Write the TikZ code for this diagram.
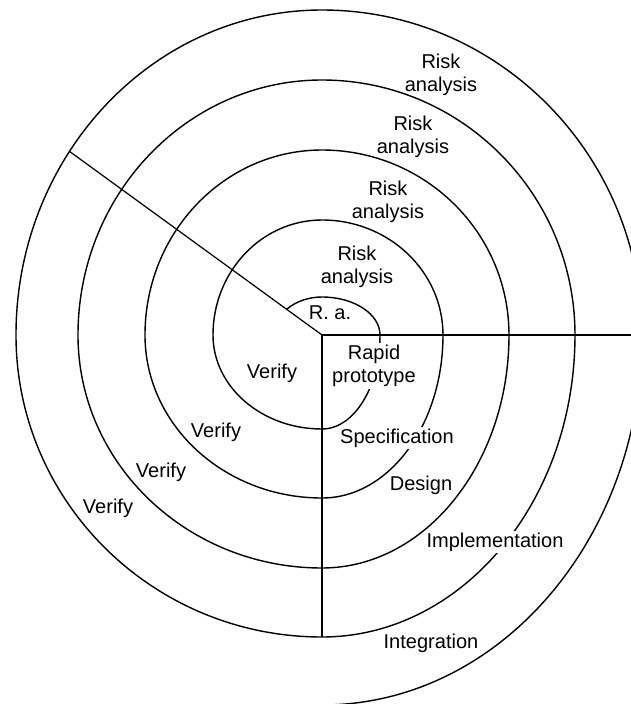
\documentclass[tikz,border=0pt]{standalone}
\usepackage{fontspec}
\setmainfont{Liberation Sans}
\usepackage{tikz}

\begin{document}
\begin{tikzpicture}[x=0.02cm, y=0.02cm, spiral/.style={line width=0.8pt}, axis/.style={line width=0.7pt}, lbl/.style={inner sep=1pt, align=center, font=\fontsize{11.4}{13}\selectfont}, gap/.style={lbl, fill=white}]

\useasboundingbox (-322,-369) rectangle (309,335);
\clip (-322,-369) rectangle (309,335);

\coordinate (c) at (0,0);
\coordinate (east) at (320,0);
\coordinate (south) at (0,-302);
\coordinate (northwest) at (145.6:306 and 325);

\draw[spiral] (138:48 and 38)
 arc[start angle=138, end angle=90, x radius=48, y radius=38]
 arc[start angle=90, end angle=0, x radius=58, y radius=38]
 arc[start angle=0, end angle=-90, x radius=58, y radius=94]
 arc[start angle=-90, end angle=-180, x radius=109, y radius=94]
 arc[start angle=180, end angle=90, x radius=109, y radius=115]
 arc[start angle=90, end angle=0, x radius=121, y radius=115]
 arc[start angle=0, end angle=-90, x radius=121, y radius=163]
 arc[start angle=-90, end angle=-180, x radius=177, y radius=163]
 arc[start angle=180, end angle=90, x radius=177, y radius=185]
 arc[start angle=90, end angle=0, x radius=187, y radius=185]
 arc[start angle=0, end angle=-90, x radius=187, y radius=233]
 arc[start angle=-90, end angle=-180, x radius=244, y radius=233]
 arc[start angle=180, end angle=90, x radius=244, y radius=255]
 arc[start angle=90, end angle=0, x radius=253, y radius=255]
 arc[start angle=0, end angle=-90, x radius=253, y radius=302]
 arc[start angle=-90, end angle=-180, x radius=306, y radius=302]
 arc[start angle=180, end angle=90, x radius=306, y radius=325]
 arc[start angle=90, end angle=0, x radius=320, y radius=325]
 arc[start angle=0, end angle=-90, x radius=320, y radius=370];

\draw[axis] (c) -- (east);
\draw[axis] (c) -- (south);
\draw[axis] (c) -- (northwest);

\node[lbl] (ra0) at (8,22) {R. a.};
\node[lbl] (ra1) at (35,68) {Risk\\analysis};
\node[lbl] (ra2) at (66,133) {Risk\\analysis};
\node[lbl] (ra3) at (91,198) {Risk\\analysis};
\node[lbl] (ra4) at (119,260) {Risk\\analysis};

\node[gap] (proto) at (52,-31) {Rapid\\prototype};
\node[gap] (spec) at (75,-103) {Specification};
\node[lbl] (design) at (99,-150) {Design};
\node[gap] (impl) at (173,-207) {Implementation};
\node[lbl] (integ) at (109,-308) {Integration};

\node[lbl] (ver1) at (-50,-38) {Verify};
\node[lbl] (ver2) at (-106,-97) {Verify};
\node[lbl] (ver3) at (-161,-137) {Verify};
\node[lbl] (ver4) at (-214,-173) {Verify};
\end{tikzpicture}
\end{document}
